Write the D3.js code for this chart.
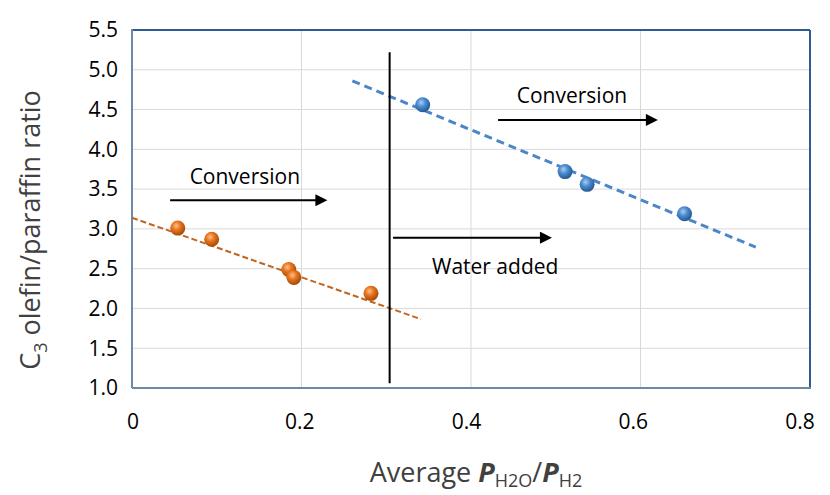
<!DOCTYPE html>
<html>
<head>
<meta charset="utf-8">
<script src="https://cdn.jsdelivr.net/npm/d3@7"></script>
<style>
    body { margin: 0; background: #fff; }
    svg { display: block; font-family: "Open Sans", "Noto Sans", sans-serif; }
</style>
</head>
<body>
<div id="viz"></div>
<script>
// data
let noWaterX = [0.054, 0.094, 0.185, 0.191, 0.282];
let noWaterY = [3.01, 2.87, 2.49, 2.39, 2.19];
let waterX = [0.343, 0.511, 0.537, 0.652];
let waterY = [4.56, 3.72, 3.56, 3.19];
// trend lines [x0, y0, x1, y1]
let noWaterTrend = [0, 3.14, 0.341, 1.865];
let waterTrend = [0.260, 4.86, 0.736, 2.77];
let waterLine = [0.304, 5.22, 0.304, 1.06];
let xTicks = [0, 0.2, 0.4, 0.6, 0.8];
let yTicks = [1.0, 1.5, 2.0, 2.5, 3.0, 3.5, 4.0, 4.5, 5.0, 5.5];

let width = 830, height = 495;
let pLeft = 132, pRight = 810, pTop = 30, pBottom = 388;

let svg = d3.select("#viz").append("svg")
    .attr("width", width)
    .attr("height", height);

let x = d3.scaleLinear().domain([0, 0.8]).range([pLeft, pRight]);
let y = d3.scaleLinear().domain([1, 5.5]).range([pBottom, pTop]);
// labels in the picture sit a touch left of their grid lines
let xLabel = d3.scaleLinear().domain([0, 0.8]).range([133, 800]);

let defs = svg.append("defs");
function ballGradient(id, light, mid, dark) {
    let g = defs.append("radialGradient").attr("id", id)
        .attr("cx", "40%").attr("cy", "35%").attr("r", "65%");
    g.append("stop").attr("offset", "0%").attr("stop-color", light);
    g.append("stop").attr("offset", "45%").attr("stop-color", mid);
    g.append("stop").attr("offset", "100%").attr("stop-color", dark);
}
ballGradient("orangeBall", "#fbc08a", "#e8731c", "#a14a08");
ballGradient("blueBall", "#a9cdf2", "#4a8bd0", "#24578f");

defs.append("marker").attr("id", "arrow")
    .attr("viewBox", "0 0 10 10").attr("refX", 2).attr("refY", 5)
    .attr("markerWidth", 7).attr("markerHeight", 6)
    .attr("markerUnits", "strokeWidth")
    .attr("orient", "auto")
    .append("path").attr("d", "M0,0 L10,5 L0,10 z").attr("fill", "#000");

// grid
svg.append("g")
    .selectAll("line")
    .data(yTicks)
    .enter().append("line")
    .attr("x1", pLeft).attr("x2", pRight)
    .attr("y1", d => y(d)).attr("y2", d => y(d))
    .attr("stroke", "#d9d9d9").attr("stroke-width", 1);
svg.append("g")
    .selectAll("line")
    .data(xTicks)
    .enter().append("line")
    .attr("x1", d => x(d)).attr("x2", d => x(d))
    .attr("y1", pTop).attr("y2", pBottom)
    .attr("stroke", "#d9d9d9").attr("stroke-width", 1);

// frame
svg.append("line").attr("x1", pLeft).attr("x2", pRight).attr("y1", pTop).attr("y2", pTop)
    .attr("stroke", "#2f5c8f").attr("stroke-width", 2);
svg.append("line").attr("x1", pRight).attr("x2", pRight).attr("y1", pTop).attr("y2", pBottom)
    .attr("stroke", "#2f5c8f").attr("stroke-width", 2);
svg.append("line").attr("x1", pLeft).attr("x2", pLeft).attr("y1", pTop - 1).attr("y2", pBottom)
    .attr("stroke", "#7088a6").attr("stroke-width", 2);
svg.append("line").attr("x1", pLeft).attr("x2", pRight + 1).attr("y1", pBottom).attr("y2", pBottom)
    .attr("stroke", "#7088a6").attr("stroke-width", 2);

// tick labels
svg.append("g").selectAll("text")
    .data(yTicks)
    .enter().append("text")
    .attr("x", 118).attr("y", d => y(d))
    .attr("dy", "0.35em")
    .attr("text-anchor", "end")
    .style("font-size", "21px")
    .attr("fill", "#000")
    .text(d => d3.format(".1f")(d));
svg.append("g").selectAll("text")
    .data(xTicks)
    .enter().append("text")
    .attr("x", d => xLabel(d)).attr("y", 422)
    .attr("dy", "0.35em")
    .attr("text-anchor", "middle")
    .style("font-size", "21px")
    .attr("fill", "#000")
    .text(d => d === 0 ? "0" : d3.format(".1f")(d));

// axis titles
let yt = svg.append("text")
    .attr("transform", "translate(40,230) rotate(-90)")
    .attr("text-anchor", "middle")
    .style("font-size", "27px")
    .attr("fill", "#404040");
yt.append("tspan").text("C");
yt.append("tspan").attr("dy", 7).style("font-size", "18px").text("3");
yt.append("tspan").attr("dy", -7).text(" olefin/paraffin ratio");

let xt = svg.append("text")
    .attr("x", 476).attr("y", 482)
    .attr("text-anchor", "middle")
    .style("font-size", "27px")
    .attr("fill", "#404040");
xt.append("tspan").text("Average ");
xt.append("tspan").style("font-weight", "bold").style("font-style", "italic").text("P");
xt.append("tspan").attr("dy", 5).style("font-size", "18px").text("H2O");
xt.append("tspan").attr("dy", -5).text("/");
xt.append("tspan").style("font-weight", "bold").style("font-style", "italic").text("P");
xt.append("tspan").attr("dy", 5).style("font-size", "18px").text("H2");

// trend lines
svg.append("line")
    .attr("x1", x(noWaterTrend[0])).attr("y1", y(noWaterTrend[1]))
    .attr("x2", x(noWaterTrend[2])).attr("y2", y(noWaterTrend[3]))
    .attr("stroke", "#c0651f").attr("stroke-width", 2)
    .attr("stroke-dasharray", "6,3");
svg.append("line")
    .attr("x1", x(waterTrend[0])).attr("y1", y(waterTrend[1]))
    .attr("x2", x(waterTrend[2])).attr("y2", y(waterTrend[3]))
    .attr("stroke", "#4a86c8").attr("stroke-width", 3)
    .attr("stroke-dasharray", "8,5");

// water added divider
svg.append("line")
    .attr("x1", x(waterLine[0])).attr("y1", y(waterLine[1]))
    .attr("x2", x(waterLine[2])).attr("y2", y(waterLine[3]))
    .attr("stroke", "#000").attr("stroke-width", 2);

// points
svg.append("g").selectAll("circle")
    .data(d3.zip(noWaterX, noWaterY))
    .enter().append("circle")
    .attr("cx", d => x(d[0])).attr("cy", d => y(d[1]))
    .attr("r", 7.5)
    .attr("fill", "url(#orangeBall)");
svg.append("g").selectAll("circle")
    .data(d3.zip(waterX, waterY))
    .enter().append("circle")
    .attr("cx", d => x(d[0])).attr("cy", d => y(d[1]))
    .attr("r", 7.5)
    .attr("fill", "url(#blueBall)");

// annotations: [x0, x1, yArrow, label, labelX, labelY]
let notes = [
    [0.045, 0.231, 3.36, "Conversion", 0.068, 3.66],
    [0.432, 0.621, 4.37, "Conversion", 0.454, 4.67],
    [0.308, 0.496, 2.89, "Water added", 0.354, 2.52]
];
notes.forEach(n => {
    svg.append("line")
        .attr("x1", x(n[0])).attr("x2", x(n[1]) - 10)
        .attr("y1", y(n[2])).attr("y2", y(n[2]))
        .attr("stroke", "#000").attr("stroke-width", 2)
        .attr("marker-end", "url(#arrow)");
    svg.append("text")
        .attr("x", x(n[4])).attr("y", y(n[5]))
        .attr("dy", "0.35em")
        .style("font-size", "21px")
        .attr("fill", "#000")
        .text(n[3]);
});
</script>
</body>
</html>
